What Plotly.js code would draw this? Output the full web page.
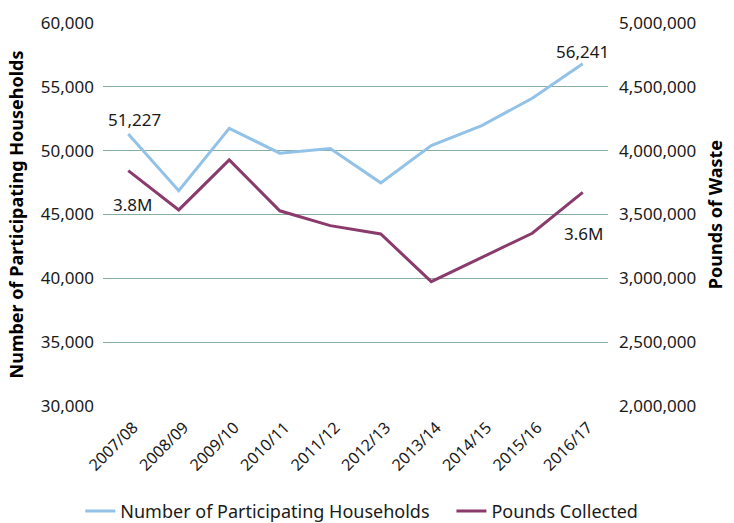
<!DOCTYPE html>
<html>
<head>
<meta charset="utf-8">
<script src="https://cdn.plot.ly/plotly-3.0.1.min.js"></script>
<style>html,body{margin:0;padding:0;background:#fff;}#chart{width:734px;height:523px;}</style>
</head>
<body>
<div id="chart"></div>
<script>
const years = ["2007/08","2008/09","2009/10","2010/11","2011/12","2012/13","2013/14","2014/15","2015/16","2016/17"];
const households = [51300, 46870, 51750, 49800, 50170, 47480, 50400, 51970, 54100, 56800];
const pounds = [3844000, 3536000, 3928000, 3529000, 3413000, 3348000, 2974000, 3165000, 3353000, 3674000];
const leftTicks = [30000, 35000, 40000, 45000, 50000, 55000, 60000];
const rightTicks = [2000000, 2500000, 3000000, 3500000, 4000000, 4500000, 5000000];
const labels = {firstHouse: "51,227", lastHouse: "56,241", firstPounds: "3.8M", lastPounds: "3.6M"};

const FONT = "Noto Sans, Open Sans, sans-serif";
const blue = "#92c2e8";
const purple = "#8b3a6c";
const grid = "#86ad9f";
const txt = "#1a1a1a";

const traces = [
  {x: years, y: households, name: "Number of Participating Households", type: "scatter", mode: "lines",
   line: {color: blue, width: 3}, yaxis: "y", legend: "legend"},
  {x: years, y: pounds, name: "Pounds Collected", type: "scatter", mode: "lines",
   line: {color: purple, width: 3}, yaxis: "y2", legend: "legend2"}
];

const fmt = v => v.toLocaleString("en-US");
const legFont = {family: FONT, size: 18, color: txt};

const layout = {
  width: 734, height: 523,
  margin: {l: 103, r: 126, t: 23, b: 117, pad: 0, autoexpand: false},
  paper_bgcolor: "#fff", plot_bgcolor: "#fff",
  font: {family: FONT, size: 17, color: txt},
  showlegend: true,
  legend: {orientation: "h", x: -0.045, xanchor: "left", y: -0.275, yanchor: "middle",
           font: legFont, itemwidth: 30, bgcolor: "rgba(0,0,0,0)"},
  legend2: {orientation: "h", x: 0.69, xanchor: "left", y: -0.275, yanchor: "middle",
           font: legFont, itemwidth: 30, bgcolor: "rgba(0,0,0,0)"},
  xaxis: {type: "category", range: [-0.5, 9.5], showgrid: false, zeroline: false, showline: false,
          tickangle: -45, ticks: "", automargin: false, ticklabelstandoff: 8, ticklabelshift: 5,
          tickfont: {family: FONT, size: 16, color: txt}},
  yaxis: {range: [30000, 60000], tickvals: leftTicks, ticktext: leftTicks.map(fmt), automargin: false,
          showgrid: true, gridcolor: grid, gridwidth: 1.3, zeroline: false, showline: false, ticks: "",
          ticklabelstandoff: 8,
          tickfont: {family: FONT, size: 17, color: txt},
          title: {text: "<b>Number of Participating Households</b>", font: {family: FONT, size: 18, color: "#000"}, standoff: 12}},
  yaxis2: {overlaying: "y", side: "right", range: [2000000, 5000000], tickvals: rightTicks, ticktext: rightTicks.map(fmt),
           showgrid: false, zeroline: false, showline: false, ticks: "", automargin: false,
           ticklabelstandoff: 10,
           tickfont: {family: FONT, size: 17, color: txt},
           title: {text: "<b>Pounds of Waste</b>", font: {family: FONT, size: 18, color: "#000"}, standoff: 14}},
  annotations: [
    {x: years[0], y: households[0], xref: "x", yref: "y", text: labels.firstHouse, showarrow: false,
     xshift: 6, yshift: 15, font: {family: FONT, size: 17, color: txt}},
    {x: years[9], y: households[9], xref: "x", yref: "y", text: labels.lastHouse, showarrow: false,
     xshift: 0, yshift: 12, font: {family: FONT, size: 17, color: txt}},
    {x: years[0], y: pounds[0], xref: "x", yref: "y2", text: labels.firstPounds, showarrow: false,
     xshift: 4, yshift: -34, font: {family: FONT, size: 17, color: txt}},
    {x: years[9], y: pounds[9], xref: "x", yref: "y2", text: labels.lastPounds, showarrow: false,
     xshift: 1, yshift: -41, font: {family: FONT, size: 17, color: txt}}
  ]
};

Plotly.newPlot("chart", traces, layout, {displayModeBar: false, staticPlot: true});
</script>
</body>
</html>
